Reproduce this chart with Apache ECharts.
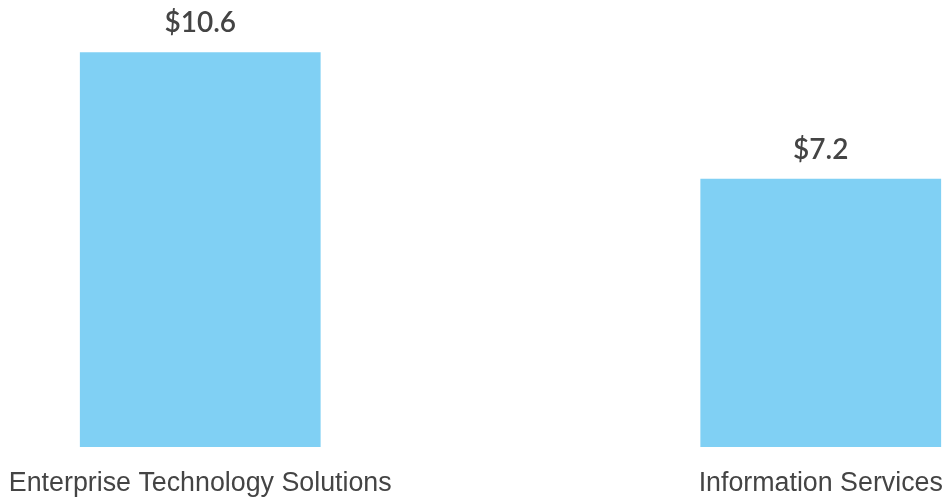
<!DOCTYPE html>
<html>
<head>
<meta charset="utf-8">
<script src="https://cdn.jsdelivr.net/npm/echarts@6/dist/echarts.min.js"></script>
<style>
  html, body { margin: 0; padding: 0; background: #fff; }
  #main { width: 943px; height: 499px; }
</style>
</head>
<body>
<div id="main"></div>
<script>
// segment revenue, $ billions
const categories = ['Enterprise Technology Solutions', 'Information Services'];
const revenue = [10.6, 7.2];

var myChart = echarts.init(document.getElementById('main'));
var option = {
  animation: false,
  grid: {
    left: -110,
    right: -188,
    top: 0,
    bottom: 52,
    outerBoundsMode: 'none'
  },
  xAxis: {
    type: 'category',
    data: categories,
    axisLine: { show: false },
    axisTick: { show: false },
    axisLabel: {
      margin: 23,
      color: '#444',
      fontFamily: 'Liberation Sans',
      fontSize: 26.8,
      interval: 0
    }
  },
  yAxis: {
    type: 'value',
    min: 0,
    max: 12,
    show: false,
    splitLine: { show: false }
  },
  series: [{
    type: 'bar',
    data: revenue,
    barWidth: '38.8%',
    itemStyle: { color: '#80D0F4' },
    label: {
      show: true,
      position: 'top',
      distance: 15,
      color: '#444',
      fontFamily: 'Lato',
      fontWeight: 600,
      fontSize: 28,
      formatter: function (p) { return '$' + p.value.toFixed(1); }
    }
  }]
};
option && myChart.setOption(option);
</script>
</body>
</html>
